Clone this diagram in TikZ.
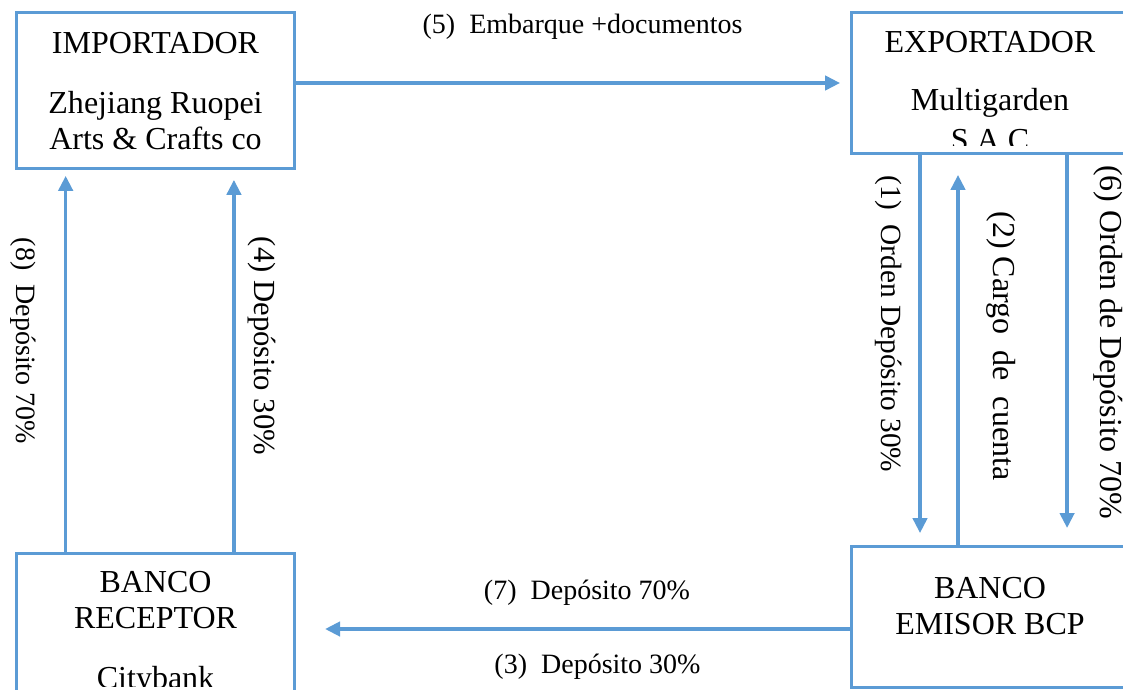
\documentclass[tikz,border=0pt]{standalone}
\usepackage{fontspec}
\setmainfont{Liberation Serif}
\usepackage{tikz}
\usetikzlibrary{arrows.meta, positioning}
\definecolor{wordblue}{HTML}{5B9BD5}
\definecolor{ink}{HTML}{000000}
\tikzset{
  box/.style    ={draw=wordblue, line width=1.1pt, rectangle, inner sep=0pt,
                  anchor=north west},
  boxtxt/.style ={align=center, inner sep=0pt, text=ink,
                  font=\fontsize{12}{13.5}\selectfont},
  flow/.style   ={-{Triangle[length=5.6pt,width=5.4pt]}, line width=1.2pt,
                  draw=wordblue},
  lbl/.style    ={font=\fontsize{#1}{#1}\selectfont, text=ink, inner sep=0pt},
  lbl/.default  =10.5,
  vlbl/.style   ={lbl=#1, rotate=-90},
  vlbl/.default =10.5
}

\begin{document}
\begin{tikzpicture}[x=0.375pt, y=-0.375pt]
  \useasboundingbox (0,0) rectangle (1123,689);
  \clip (0,0) rectangle (1123,689);

  \node[box, minimum width=104.3pt, minimum height=58.5pt] (imp) at (15,11)   {};
  \node[box, minimum width=103.9pt, minimum height=52.9pt] (exp) at (850,11)  {};
  \node[box, minimum width=104.3pt, minimum height=56.3pt] (rec) at (15,552)  {};
  \node[box, minimum width=103.9pt, minimum height=52.9pt] (emi) at (850,545) {};

  \node[boxtxt, below=7.9pt of imp.north] (imptxt)
    {IMPORTADOR\\[9pt]Zhejiang Ruopei\\Arts \& Crafts co};
  \begin{scope}
    \clip (exp.north west) rectangle ([yshift=3.75pt]exp.south east);
    \node[boxtxt, below=7.5pt of exp.north] (exptxt)
      {EXPORTADOR\\[8.25pt]Multigarden\\[1.5pt]S.A.C};
  \end{scope}
  \begin{scope}
    \clip (rec.north west) rectangle ([yshift=7pt]rec.south east);
    \node[boxtxt, below=7.1pt of rec.north] (rectxt)
      {BANCO\\RECEPTOR\\[9pt]Citybank};
  \end{scope}
  \node[boxtxt, below=12pt of emi.north] (emitxt) {BANCO\\EMISOR BCP};

  \draw[flow] (imp.east |- exp.west) -- ([xshift=-3.75pt]exp.west);
  \draw[flow] ([xshift=19pt]rec.north west) -- ([xshift=19pt,yshift=-2.25pt]imp.south west);
  \draw[flow] ([xshift=82.1pt]rec.north west) -- ([xshift=82.1pt,yshift=-3.75pt]imp.south west);
  \draw[flow] ([xshift=26.25pt]exp.south west) -- ([xshift=26.25pt,yshift=4.5pt]emi.north west);
  \draw[flow] ([xshift=40.5pt]emi.north west) -- ([xshift=40.5pt,yshift=-7.5pt]exp.south west);
  \draw[flow] ([xshift=81.4pt]exp.south west) -- ([xshift=81.4pt,yshift=6.4pt]emi.north west);
  \coordinate (c7) at ([yshift=-4.5pt]emi.west);
  \coordinate (c3) at (c7 -| rec.east);
  \draw[flow] (c7) -- ([xshift=10.9pt]c3);

  \node[lbl, anchor=base] (l5) at (582.5,33) {(5)\ \ Embarque +documentos};
  \node[lbl, anchor=base] (l7) at (587,599)  {(7)\ \ Depósito 70\%};
  \node[lbl, anchor=base] (l3) at (597.5,673) {(3)\ \ Depósito 30\%};
  \node[vlbl]      (l8) at (23,341)   {(8)\ \ Depósito 70\%};
  \node[vlbl=11.5] (l4) at (262,346)  {(4) Depósito 30\%};
  \node[vlbl=11]   (l1) at (889,324)  {(1)\ \ Orden Depósito 30\%};
  \node[vlbl=12]   (l2) at (1001,346) {(2)\ Cargo\ \ de\ \ cuenta};
  \node[vlbl=12]   (l6) at (1108,342) {(6) Orden de Depósito 70\%};
\end{tikzpicture}
\end{document}
